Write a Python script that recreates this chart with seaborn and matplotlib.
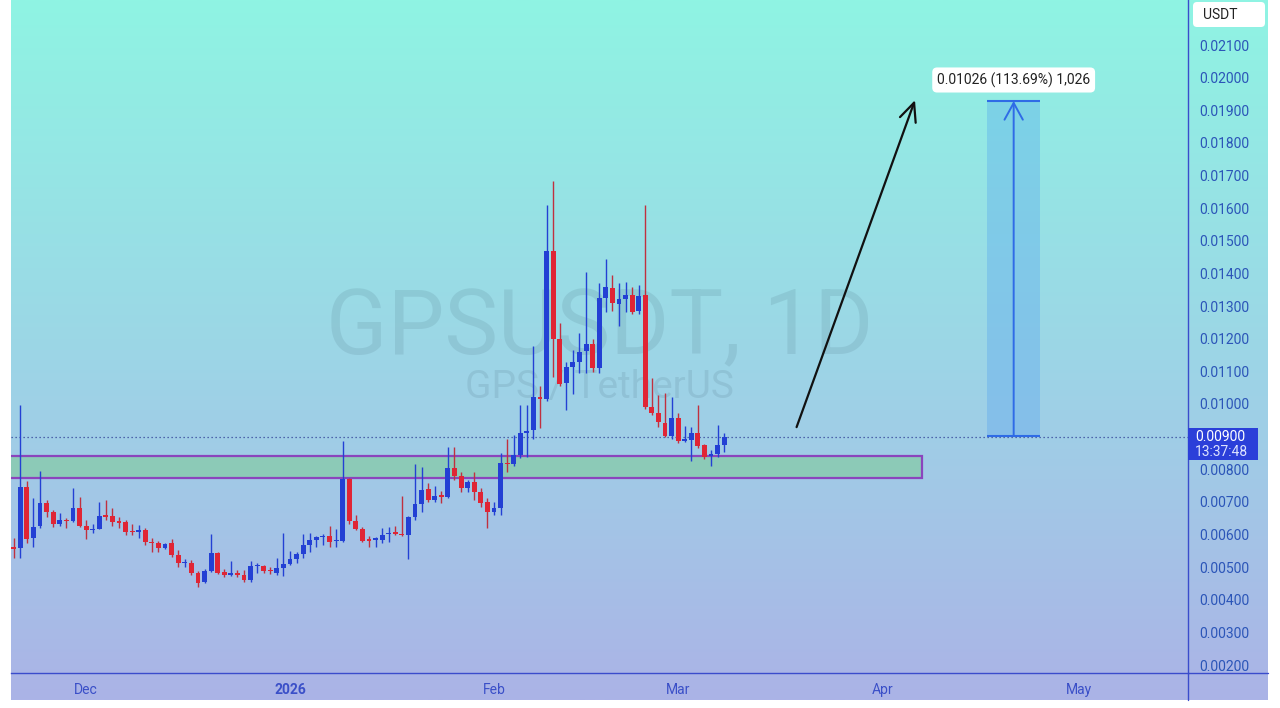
import numpy as np
import pandas as pd
import matplotlib
matplotlib.use('Agg')
import matplotlib.pyplot as plt
import matplotlib.transforms as mtransforms
from matplotlib.colors import LinearSegmentedColormap
from matplotlib.patches import FancyBboxPatch, Rectangle
from matplotlib.lines import Line2D
import seaborn as sns

# ---------------- data ----------------
start_date = '2025-11-20'

opens = [0.00562, 0.00560, 0.00744, 0.00589, 0.00626, 0.00696, 0.00669, 0.00632, 0.00643, 0.00640,
         0.00681, 0.00626, 0.00614, 0.00617, 0.00660, 0.00657, 0.00640, 0.00638, 0.00610, 0.00608,
         0.00614, 0.00578, 0.00574, 0.00559, 0.00574, 0.00537, 0.00513, 0.00513, 0.00482, 0.00454,
         0.00488, 0.00543, 0.00485, 0.00477, 0.00482, 0.00476, 0.00460, 0.00502, 0.00503, 0.00490,
         0.00482, 0.00497, 0.00510, 0.00525, 0.00540, 0.00568, 0.00583, 0.00592, 0.00595, 0.00580,
         0.00580, 0.00770, 0.00641, 0.00617, 0.00586, 0.00583, 0.00583, 0.00600, 0.00607, 0.00601,
         0.00598, 0.00654, 0.00693, 0.00739, 0.00706, 0.00720, 0.00715, 0.00804, 0.00780, 0.00743,
         0.00761, 0.00731, 0.00700, 0.00669, 0.00681, 0.00820, 0.00816, 0.00844, 0.00911, 0.00920,
         0.01021, 0.01015, 0.01469, 0.01200, 0.01064, 0.01113, 0.01129, 0.01162, 0.01184, 0.01110,
         0.01325, 0.01355, 0.01306, 0.01322, 0.01334, 0.01285, 0.01334, 0.00991, 0.00972, 0.00942,
         0.00902, 0.00957, 0.00887, 0.00890, 0.00911, 0.00874, 0.00841, 0.00847, 0.00874]
highs = [0.00590, 0.00997, 0.00764, 0.00712, 0.00795, 0.00706, 0.00675, 0.00666, 0.00650, 0.00742,
         0.00715, 0.00644, 0.00632, 0.00700, 0.00706, 0.00681, 0.00654, 0.00645, 0.00632, 0.00629,
         0.00620, 0.00589, 0.00580, 0.00575, 0.00586, 0.00553, 0.00525, 0.00522, 0.00488, 0.00494,
         0.00601, 0.00546, 0.00494, 0.00519, 0.00491, 0.00491, 0.00519, 0.00513, 0.00506, 0.00500,
         0.00528, 0.00605, 0.00550, 0.00546, 0.00601, 0.00605, 0.00595, 0.00601, 0.00626, 0.00617,
         0.00887, 0.00772, 0.00660, 0.00623, 0.00595, 0.00592, 0.00620, 0.00623, 0.00626, 0.00718,
         0.00657, 0.00816, 0.00807, 0.00758, 0.00749, 0.00733, 0.00868, 0.00868, 0.00792, 0.00767,
         0.00792, 0.00743, 0.00712, 0.00700, 0.00850, 0.00893, 0.00905, 0.00997, 0.00997, 0.01178,
         0.01055, 0.01610, 0.01683, 0.01248, 0.01129, 0.01165, 0.01218, 0.01404, 0.01200, 0.01371,
         0.01444, 0.01395, 0.01371, 0.01374, 0.01358, 0.01365, 0.01610, 0.01080, 0.01027, 0.01034,
         0.01021, 0.00972, 0.00933, 0.00930, 0.00997, 0.00877, 0.00859, 0.00936, 0.00911]
lows = [0.00528, 0.00528, 0.00574, 0.00562, 0.00620, 0.00654, 0.00623, 0.00626, 0.00620, 0.00637,
        0.00623, 0.00586, 0.00605, 0.00617, 0.00644, 0.00626, 0.00620, 0.00598, 0.00598, 0.00590,
        0.00568, 0.00546, 0.00546, 0.00556, 0.00531, 0.00500, 0.00500, 0.00476, 0.00439, 0.00451,
        0.00485, 0.00479, 0.00470, 0.00473, 0.00470, 0.00454, 0.00454, 0.00482, 0.00482, 0.00479,
        0.00476, 0.00473, 0.00506, 0.00513, 0.00528, 0.00546, 0.00562, 0.00568, 0.00562, 0.00562,
        0.00577, 0.00632, 0.00614, 0.00577, 0.00562, 0.00562, 0.00574, 0.00577, 0.00598, 0.00595,
        0.00525, 0.00644, 0.00669, 0.00700, 0.00700, 0.00697, 0.00712, 0.00767, 0.00731, 0.00731,
        0.00706, 0.00684, 0.00620, 0.00660, 0.00660, 0.00792, 0.00810, 0.00835, 0.00838, 0.00893,
        0.00926, 0.01010, 0.01083, 0.01055, 0.00982, 0.01030, 0.01095, 0.01095, 0.01098, 0.01095,
        0.01282, 0.01285, 0.01239, 0.01282, 0.01276, 0.01276, 0.00985, 0.00966, 0.00930, 0.00899,
        0.00893, 0.00880, 0.00884, 0.00825, 0.00865, 0.00831, 0.00810, 0.00837, 0.00853]
closes = [0.00557, 0.00746, 0.00586, 0.00623, 0.00696, 0.00669, 0.00632, 0.00644, 0.00640, 0.00681,
          0.00626, 0.00614, 0.00617, 0.00657, 0.00654, 0.00638, 0.00636, 0.00608, 0.00608, 0.00614,
          0.00577, 0.00574, 0.00559, 0.00571, 0.00537, 0.00513, 0.00516, 0.00482, 0.00451, 0.00488,
          0.00543, 0.00482, 0.00476, 0.00479, 0.00476, 0.00460, 0.00503, 0.00504, 0.00488, 0.00487,
          0.00497, 0.00510, 0.00525, 0.00540, 0.00568, 0.00583, 0.00592, 0.00595, 0.00578, 0.00583,
          0.00770, 0.00641, 0.00617, 0.00580, 0.00580, 0.00589, 0.00598, 0.00605, 0.00602, 0.00598,
          0.00654, 0.00693, 0.00736, 0.00706, 0.00718, 0.00715, 0.00804, 0.00780, 0.00743, 0.00761,
          0.00731, 0.00697, 0.00669, 0.00681, 0.00819, 0.00816, 0.00844, 0.00911, 0.00917, 0.01021,
          0.01015, 0.01469, 0.01199, 0.01061, 0.01113, 0.01129, 0.01160, 0.01184, 0.01110, 0.01325,
          0.01358, 0.01309, 0.01322, 0.01334, 0.01282, 0.01331, 0.00991, 0.00972, 0.00945, 0.00902,
          0.00957, 0.00887, 0.00893, 0.00911, 0.00871, 0.00837, 0.00846, 0.00874, 0.00900]

# support zone
zone_low, zone_high = 0.00773, 0.00840
zone_start, zone_end = '2025-11-10', '2026-04-07'

# last price label
last_price = 0.00900
countdown = '13:37:48'

# long position / measure tool
entry_price, target_price = 0.009025, 0.019285
measure_start, measure_end = '2026-04-17', '2026-04-25'
measure_label = '0.01026 (113.69%) 1,026'

# hand-drawn arrow
arrow_from_date, arrow_from_price = '2026-03-19', 0.00929
arrow_to_date, arrow_to_price = '2026-04-06', 0.01931

# axes
price_ticks = [0.002, 0.003, 0.004, 0.005, 0.006, 0.007, 0.008, 0.010, 0.011,
               0.012, 0.013, 0.014, 0.015, 0.016, 0.017, 0.018, 0.019, 0.020, 0.021]
month_ticks = ['2025-12-01', '2026-01-01', '2026-02-01', '2026-03-01', '2026-04-01', '2026-05-01']
month_labels = ['Dec', '2026', 'Feb', 'Mar', 'Apr', 'May']
x_range = ('2025-11-19 14:00', '2026-05-17 12:00')
y_range = (0.001755, 0.02238)

# colours
BLUE = '#2340d4'
RED = '#e02535'
RED_WICK = '#c0303f'
PURPLE = '#8b44bd'
AXIS_BLUE = '#3a4ccc'
LABEL_BLUE = '#2b55b8'

# ---------------- figure ----------------
sns.set_theme(style='white')
plt.rcParams['font.family'] = ['Roboto', 'DejaVu Sans']

fig = plt.figure(figsize=(12.8, 7.08), dpi=100)
fig.patch.set_facecolor('white')

# gradient background (chart + price scale)
bg = fig.add_axes([11 / 1280, 8 / 708, 1257 / 1280, 700 / 708])
cmap = LinearSegmentedColormap.from_list('bg', ['#8ff4e3', '#9cd6e6', '#abb3e7'])
bg.imshow(np.linspace(0, 1, 256).reshape(-1, 1), aspect='auto', cmap=cmap,
          extent=[0, 1, 0, 1], origin='upper')
bg.axis('off')

ax = fig.add_axes([11 / 1280, 35 / 708, 1177 / 1280, 673 / 708])
ax.patch.set_alpha(0)
ax.grid(False)

dates = pd.date_range(start_date, periods=len(opens), freq='D')
o = np.array(opens)
c = np.array(closes)
up = c >= o
body_bottom = np.minimum(o, c)
body_height = np.maximum(np.abs(c - o), 0.00004)

# watermark
ax.text(0.5, 0.474, 'GPSUSDT, 1D', transform=ax.transAxes, ha='center', va='baseline',
        fontsize=65, color='#335566', alpha=0.12, zorder=1)
ax.text(0.5, 0.4086, 'GPS / TetherUS', transform=ax.transAxes, ha='center', va='baseline',
        fontsize=28, color='#335566', alpha=0.12, zorder=1)

# support zone
zx = pd.to_datetime([zone_start, zone_end])
z0, z1 = matplotlib.dates.date2num(zx)
ax.add_patch(Rectangle((z0, zone_low), z1 - z0, zone_high - zone_low,
                       fc='#8ccab7', ec=PURPLE, lw=1.6, zorder=2))

# current price dotted line
ax.axhline(last_price, color='#34449a', lw=0.9, linestyle=(0, (1, 2.2)), zorder=2.5)

# candles
ax.vlines(dates, lows, highs, colors=np.where(up, BLUE, RED_WICK), lw=1.0, zorder=3)
ax.bar(dates, body_height, bottom=body_bottom, width=0.74,
       color=np.where(up, BLUE, RED), linewidth=0, zorder=4)

# measure tool
mx = pd.to_datetime([measure_start, measure_end])
m0, m1 = matplotlib.dates.date2num(mx)
mid = mx[0] + (mx[1] - mx[0]) / 2
ax.add_patch(Rectangle((m0, entry_price), m1 - m0, target_price - entry_price,
                       fc='#4a9af0', alpha=0.3, lw=0, zorder=2))
ax.hlines([entry_price, target_price], mx[0], mx[1], colors='#2f6be6', lw=1.5, zorder=3)
ax.annotate('', xy=(mid, target_price), xytext=(mid, entry_price),
            arrowprops=dict(arrowstyle='->,head_length=1.0,head_width=0.55', color='#2f6be6',
                            lw=1.4, shrinkA=0, shrinkB=0), zorder=3)
ax.annotate(measure_label, xy=(mid, target_price), xytext=(0, 21), textcoords='offset pixels',
            ha='center', va='center', fontsize=10, color='#222222',
            bbox=dict(boxstyle='round,pad=0.35', fc='white', ec='none'), zorder=6)

# black arrow
ax.annotate('', xy=(pd.Timestamp(arrow_to_date), arrow_to_price),
            xytext=(pd.Timestamp(arrow_from_date), arrow_from_price),
            arrowprops=dict(arrowstyle='->,head_length=1.1,head_width=0.5', color='#111111',
                            lw=1.6, shrinkA=0, shrinkB=0), zorder=5)

# axes
ax.set_xlim(pd.Timestamp(x_range[0]), pd.Timestamp(x_range[1]))
ax.set_ylim(*y_range)
ax.yaxis.tick_right()
ax.set_yticks(price_ticks)
ax.set_yticklabels([f'{t:.5f}' for t in price_ticks])
ax.tick_params(axis='y', length=0, pad=8, labelsize=10, labelcolor=LABEL_BLUE)
ax.set_xticks(pd.to_datetime(month_ticks))
ax.set_xticklabels(month_labels)
ax.tick_params(axis='x', length=0, pad=7, labelsize=10, labelcolor='#3a4fc8')
for lbl in ax.get_xticklabels():
    if lbl.get_text() == '2026':
        lbl.set_fontweight('bold')

for side in ['top', 'left']:
    ax.spines[side].set_visible(False)
for side in ['right', 'bottom']:
    ax.spines[side].set_color(AXIS_BLUE)
    ax.spines[side].set_linewidth(1.0)

# spine extensions into the scale corner
fig.add_artist(Line2D([1188 / 1280, 1188 / 1280], [8 / 708, 35 / 708], color=AXIS_BLUE, lw=1.0))
fig.add_artist(Line2D([1188 / 1280, 1268 / 1280], [35 / 708, 35 / 708], color=AXIS_BLUE, lw=1.0))

# last price label on the scale
blend = mtransforms.blended_transform_factory(ax.transAxes, ax.transData)
ax.add_patch(Rectangle((1.0, last_price - 0.00072), 70 / 1177, 0.00098, transform=blend,
                       fc='#2b3fd9', ec='none', clip_on=False, zorder=10))
ax.text(1.006, last_price, f'{last_price:.5f}', transform=blend, color='white',
        va='center', ha='left', fontsize=10, clip_on=False, zorder=11)
ax.text(1.006, last_price - 0.00046, countdown, transform=blend, color='#dde3ff',
        va='center', ha='left', fontsize=10, clip_on=False, zorder=11)

# currency box
fig.add_artist(FancyBboxPatch((11.93, 6.81), 0.72, 0.25, boxstyle='round,pad=0,rounding_size=0.04',
                              transform=fig.dpi_scale_trans, fc='white', ec='none'))
fig.text(12.03 / 12.8, (708 - 15) / 708, 'USDT', ha='left', va='center', fontsize=10, color='#222222')

fig.savefig('out.png', dpi=100)
